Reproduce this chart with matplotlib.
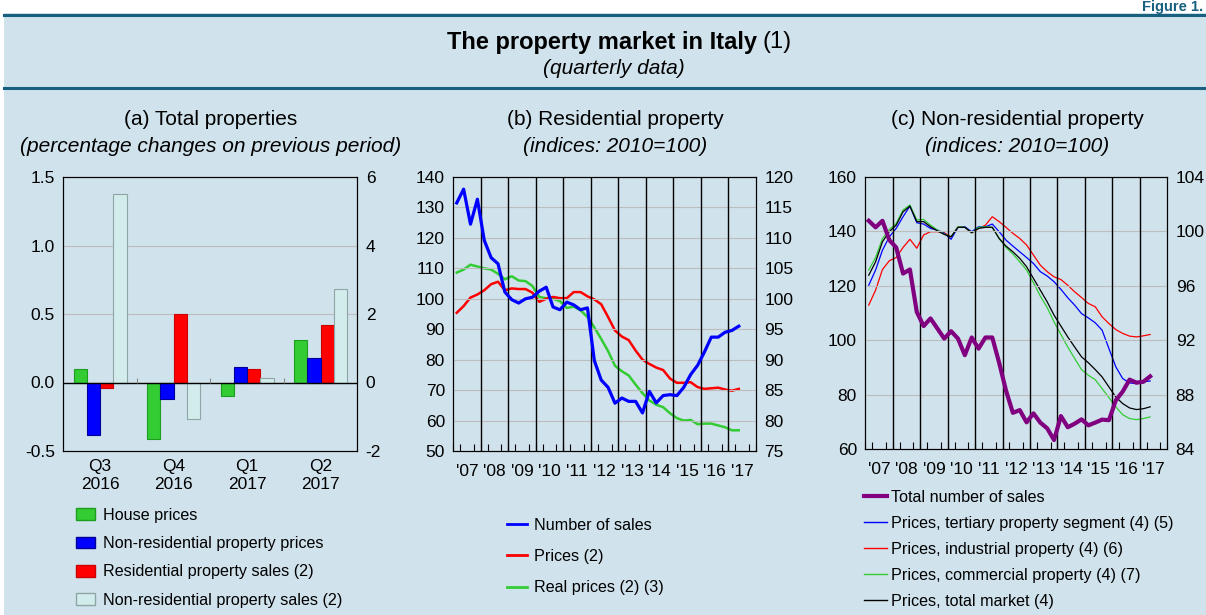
import matplotlib
matplotlib.use("Agg")
import matplotlib.pyplot as plt
import matplotlib.patches as patches
from matplotlib.lines import Line2D
import numpy as np
import pandas as pd

plt.rcParams['font.family'] = ['Liberation Sans', 'DejaVu Sans']
plt.rcParams['axes.unicode_minus'] = False

# ---- data -------------------------------------------------------------
bar_periods = ['Q3\n2016', 'Q4\n2016', 'Q1\n2017', 'Q2\n2017']
house_prices = [0.10, -0.41, -0.10, 0.31]                  # left axis
nonres_prices = [-0.38, -0.12, 0.11, 0.18]                 # left axis
res_sales = [-0.16, 2.00, 0.40, 1.68]                      # right axis
nonres_sales = [5.50, -1.08, 0.12, 2.72]                   # right axis

quarters = pd.period_range('2007Q1', '2017Q2', freq='Q')
year_labels = ["'07", "'08", "'09", "'10", "'11", "'12", "'13", "'14", "'15", "'16", "'17"]

# (b) residential: number of sales (left), prices (right)
res_number_sales = [131.5, 136.0, 124.5, 132.7, 119.2, 113.5, 111.5, 102.2, 99.7, 98.6,
                    100.0, 100.5, 102.5, 103.8, 97.3, 96.4, 98.9, 98.0, 96.4, 97.0,
                    79.7, 73.3, 70.9, 65.7, 67.4, 66.3, 66.3, 62.5, 69.6, 65.8,
                    68.2, 68.5, 68.2, 70.9, 75.1, 78.1, 82.5, 87.4, 87.4, 89.0,
                    89.6, 91.0]
res_prices = [97.7, 98.8, 100.2, 100.7, 101.4, 102.4, 102.8, 101.4, 101.7, 101.6,
              101.6, 101.0, 99.5, 100.0, 100.3, 100.1, 100.1, 101.1, 101.1, 100.4,
              99.9, 99.1, 97.0, 94.8, 93.8, 93.2, 91.5, 90.0, 89.3, 88.7,
              88.3, 86.9, 86.2, 86.2, 86.3, 85.5, 85.2, 85.3, 85.4, 85.1,
              84.9, 85.2]
res_real_prices = [104.3, 104.8, 105.6, 105.3, 105.0, 104.8, 104.1, 103.2, 103.7, 103.0,
                   102.9, 102.1, 100.3, 100.1, 100.0, 99.6, 98.5, 98.7, 98.1, 97.0,
                   95.3, 93.4, 91.4, 89.0, 88.1, 87.4, 85.9, 84.5, 83.3, 82.6,
                   82.2, 81.2, 80.4, 80.0, 80.1, 79.4, 79.5, 79.5, 79.2, 78.9,
                   78.4, 78.4]

# (c) non-residential: total sales (left), prices (right)
nr_total_sales = [143.9, 141.5, 143.9, 136.8, 134.1, 124.5, 126.0, 110.4, 105.2, 108.0,
                  104.3, 100.6, 103.3, 100.6, 94.5, 101.0, 96.9, 101.0, 101.0, 91.7,
                  81.5, 73.3, 74.3, 69.8, 73.1, 69.7, 67.6, 63.3, 72.1, 68.0,
                  69.3, 70.9, 68.7, 69.7, 70.8, 70.6, 77.9, 81.1, 85.5, 84.4,
                  84.7, 86.7]
nr_tertiary = [96.04, 97.16, 98.62, 99.6, 100.22, 101.08, 101.86, 100.64, 100.54, 100.22,
               100.1, 99.86, 99.42, 100.3, 100.34, 99.98, 100.34, 100.34, 100.54, 99.98,
               99.36, 98.92, 98.5, 98.08, 97.64, 97.04, 96.72, 96.3, 95.74, 95.12,
               94.58, 93.96, 93.64, 93.28, 92.74, 91.38, 90.04, 89.18, 88.86, 88.8,
               88.94, 89.0]
nr_industrial = [94.58, 95.68, 97.2, 97.84, 98.08, 98.82, 99.42, 98.76, 99.74, 99.98,
                 99.98, 99.9, 99.6, 100.3, 100.3, 99.9, 100.22, 100.46, 101.08, 100.72,
                 100.3, 99.86, 99.48, 99.0, 98.26, 97.52, 97.04, 96.66, 96.46, 96.04,
                 95.56, 95.14, 94.7, 94.46, 93.72, 93.22, 92.78, 92.5, 92.3, 92.24,
                 92.32, 92.42]
nr_commercial = [97.16, 98.08, 99.48, 100.14, 100.58, 101.58, 101.94, 100.84, 100.88, 100.46,
                 100.1, 99.8, 99.6, 100.34, 100.3, 99.9, 100.3, 100.34, 100.3, 99.48,
                 98.82, 98.34, 97.76, 97.16, 96.22, 95.24, 94.4, 93.34, 92.42, 91.5,
                 90.66, 89.84, 89.42, 89.1, 88.44, 87.78, 87.1, 86.52, 86.24, 86.16,
                 86.24, 86.36]
nr_total_market = [96.78, 97.76, 99.24, 99.98, 100.46, 101.44, 101.86, 100.72, 100.72, 100.34,
                   100.04, 99.78, 99.6, 100.3, 100.3, 99.9, 100.22, 100.3, 100.3, 99.48,
                   98.92, 98.5, 98.02, 97.4, 96.54, 95.68, 94.82, 93.84, 93.04, 92.24,
                   91.5, 90.78, 90.34, 89.84, 89.3, 88.56, 87.82, 87.34, 87.02, 86.9,
                   86.96, 87.1]

BG = '#d0e2ec'
DARK = '#17607f'
C_GREEN = '#33cc33'
C_BLUE = '#0000ff'
C_RED = '#ff0000'
C_LIGHT = '#d2ecec'
C_PURPLE = '#800080'
GRID = '#bdbdbd'
TICK_FS = 12.5
LEG_FS = 11.6

W, H = 1206, 615
fig = plt.figure(figsize=(W / 100, H / 100), dpi=100, facecolor=BG)


def fx(px):
    return px / W


def fy(py):
    return 1 - py / H


# header decoration
fig.add_artist(patches.Rectangle((0, fy(13)), 1, 13 / H, transform=fig.transFigure,
                                 facecolor='white', edgecolor='none', zorder=0))
fig.add_artist(patches.Rectangle((0, 0), fx(4), 1, transform=fig.transFigure,
                                 facecolor='white', edgecolor='none', zorder=0))
for yy in (14.5, 87.5):
    fig.add_artist(Line2D([fx(4), 1], [fy(yy), fy(yy)], transform=fig.transFigure,
                          color=DARK, lw=2.2))
fig.text(fx(1203), fy(0.5), 'Figure 1.', ha='right', va='top', color=DARK,
         fontsize=10.5, fontweight='bold')
fig.text(fx(757), fy(42), 'The property market in Italy', ha='right', va='center',
         fontsize=17, fontweight='bold')
fig.text(fx(762), fy(42), '(1)', ha='left', va='center', fontsize=17)
fig.text(fx(614), fy(68), '(quarterly data)', ha='center', va='center',
         fontsize=15, style='italic')

panel_titles = [(211, '(a) Total properties', '(percentage changes on previous period)'),
                (615, '(b) Residential property', '(indices: 2010=100)'),
                (1017, '(c) Non-residential property', '(indices: 2010=100)')]
for xc, t1, t2 in panel_titles:
    fig.text(fx(xc), fy(120), t1, ha='center', va='center', fontsize=15)
    fig.text(fx(xc), fy(147), t2, ha='center', va='center', fontsize=15, style='italic')


def make_axes(left, right, top, bottom):
    return fig.add_axes([fx(left), fy(bottom), fx(right - left), (bottom - top) / H])


# ---- (a) bars ----------------------------------------------------------
axa = make_axes(63.3, 357.3, 177, 451)
axa2 = axa.twinx()
xa = np.arange(len(bar_periods))
bw = 0.18
axa.set_zorder(axa2.get_zorder() + 1)
axa.patch.set_visible(False)
axa2.patch.set_facecolor('white')
axa.bar(xa - 1.5 * bw, house_prices, bw, color=C_GREEN, edgecolor='#1e9e1e', lw=0.8)
axa.bar(xa - 0.5 * bw, nonres_prices, bw, color=C_BLUE, edgecolor='#000099', lw=0.8)
axa2.bar(xa + 0.5 * bw, res_sales, bw, color=C_RED, edgecolor='#cc0000', lw=0.8)
axa2.bar(xa + 1.5 * bw, nonres_sales, bw, color=C_LIGHT, edgecolor='#8fa5a5', lw=0.8)
axa.set_ylim(-0.5, 1.5)
axa2.set_ylim(-2, 6)
axa.set_xlim(-0.5, len(bar_periods) - 0.5)
axa.set_yticks([-0.5, 0.0, 0.5, 1.0, 1.5])
axa.set_yticklabels(['-0.5', '0.0', '0.5', '1.0', '1.5'])
axa2.set_yticks([-2, 0, 2, 4, 6])
for yv in (0.5, 1.0):
    axa2.axhline(yv * 4, color=GRID, lw=0.8, zorder=0)
axa.axhline(0, color='black', lw=1.0)
axa.vlines(xa[:-1] + 0.5, 0, 0.035, color='#888888', lw=0.8)
axa.set_xticks(xa)
axa.set_xticklabels(bar_periods, linespacing=1.25)
for a in (axa, axa2):
    a.tick_params(length=0, labelsize=TICK_FS, pad=6)
    for s in a.spines.values():
        s.set_linewidth(0.8)
axa.tick_params(axis='x', pad=6)

# ---- shared helpers for time panels ----------------------------------
xt = quarters.year + (quarters.quarter - 0.5) / 4.0
first_year = quarters.year[0]
years = np.arange(first_year, first_year + len(year_labels))


def style_time_axis(ax, ax2, gridvals):
    ax.set_xlim(years[0], years[-1] + 1)
    for yv in gridvals:
        ax.axhline(yv, color=GRID, lw=0.8, zorder=0)
    for yr in years[1:]:
        ax.axvline(yr, color='black', lw=1.0, zorder=1)
    ax.set_xticks(years + 0.5)
    ax.set_xticklabels(year_labels)
    ax.set_xticks(np.arange(years[0], years[-1] + 1.01, 0.25), minor=True)
    ax.tick_params(axis='x', which='major', length=0, pad=9, labelsize=TICK_FS)
    ax.tick_params(axis='x', which='minor', direction='in', length=5, width=0.8)
    ax.tick_params(axis='y', length=0, labelsize=TICK_FS, pad=6)
    ax2.tick_params(axis='y', length=0, labelsize=TICK_FS, pad=6)
    for a in (ax, ax2):
        for s in a.spines.values():
            s.set_linewidth(0.8)


# ---- (b) residential ---------------------------------------------------
axb = make_axes(453.3, 756, 177, 451)
axb2 = axb.twinx()
axb.set_ylim(50, 140)
axb.set_yticks(np.arange(50, 141, 10))
axb2.set_ylim(75, 120)
axb2.set_yticks(np.arange(75, 121, 5))
style_time_axis(axb, axb2, np.arange(60, 140, 10))
axb2.plot(xt, res_real_prices, color=C_GREEN, lw=1.8, zorder=3)
axb2.plot(xt, res_prices, color=C_RED, lw=1.8, zorder=3)
axb.set_zorder(axb2.get_zorder() + 1)
axb.patch.set_visible(False)
axb2.patch.set_facecolor('white')
axb.plot(xt, res_number_sales, color=C_BLUE, lw=2.3, zorder=4)

# ---- (c) non-residential -----------------------------------------------
axc = make_axes(865.3, 1167.3, 177, 449)
axc2 = axc.twinx()
axc.set_ylim(60, 160)
axc.set_yticks(np.arange(60, 161, 20))
axc2.set_ylim(84, 104)
axc2.set_yticks(np.arange(84, 105, 4))
style_time_axis(axc, axc2, [80, 100, 120, 140])
axc2.plot(xt, nr_industrial, color=C_RED, lw=0.9)
axc2.plot(xt, nr_tertiary, color=C_BLUE, lw=0.9)
axc2.plot(xt, nr_commercial, color=C_GREEN, lw=0.9)
axc2.plot(xt, nr_total_market, color='black', lw=0.9)
axc.set_zorder(axc2.get_zorder() + 1)
axc.patch.set_visible(False)
axc2.patch.set_facecolor('white')
axc.plot(xt, nr_total_sales, color=C_PURPLE, lw=3.0)

# ---- legends -----------------------------------------------------------
leg_a = [patches.Patch(facecolor=C_GREEN, edgecolor='#1e9e1e', label='House prices'),
         patches.Patch(facecolor=C_BLUE, edgecolor='#000099', label='Non-residential property prices'),
         patches.Patch(facecolor=C_RED, edgecolor='#cc0000', label='Residential property sales (2)'),
         patches.Patch(facecolor=C_LIGHT, edgecolor='#8fa5a5', label='Non-residential property sales (2)')]
fig.legend(handles=leg_a, loc='upper left', bbox_to_anchor=(fx(76), fy(508)),
           frameon=False, fontsize=LEG_FS, handlelength=1.2, handleheight=0.75,
           handletextpad=0.5, labelspacing=0.82, borderpad=0, borderaxespad=0)

leg_b = [Line2D([], [], color=C_BLUE, lw=2, label='Number of sales'),
         Line2D([], [], color=C_RED, lw=2, label='Prices (2)'),
         Line2D([], [], color=C_GREEN, lw=2, label='Real prices (2) (3)')]
fig.legend(handles=leg_b, loc='upper left', bbox_to_anchor=(fx(507), fy(518)),
           frameon=False, fontsize=LEG_FS, handlelength=1.25, handletextpad=0.45,
           labelspacing=1.0, borderpad=0, borderaxespad=0)

leg_c = [Line2D([], [], color=C_PURPLE, lw=3, label='Total number of sales'),
         Line2D([], [], color=C_BLUE, lw=1, label='Prices, tertiary property segment (4) (5)'),
         Line2D([], [], color=C_RED, lw=1, label='Prices, industrial property (4) (6)'),
         Line2D([], [], color=C_GREEN, lw=1, label='Prices, commercial property (4) (7)'),
         Line2D([], [], color='black', lw=1, label='Prices, total market (4)')]
fig.legend(handles=leg_c, loc='upper left', bbox_to_anchor=(fx(864), fy(490)),
           frameon=False, fontsize=LEG_FS, handlelength=1.45, handletextpad=0.25,
           labelspacing=0.68, borderpad=0, borderaxespad=0)

fig.savefig('out.png', dpi=100, facecolor=BG)
